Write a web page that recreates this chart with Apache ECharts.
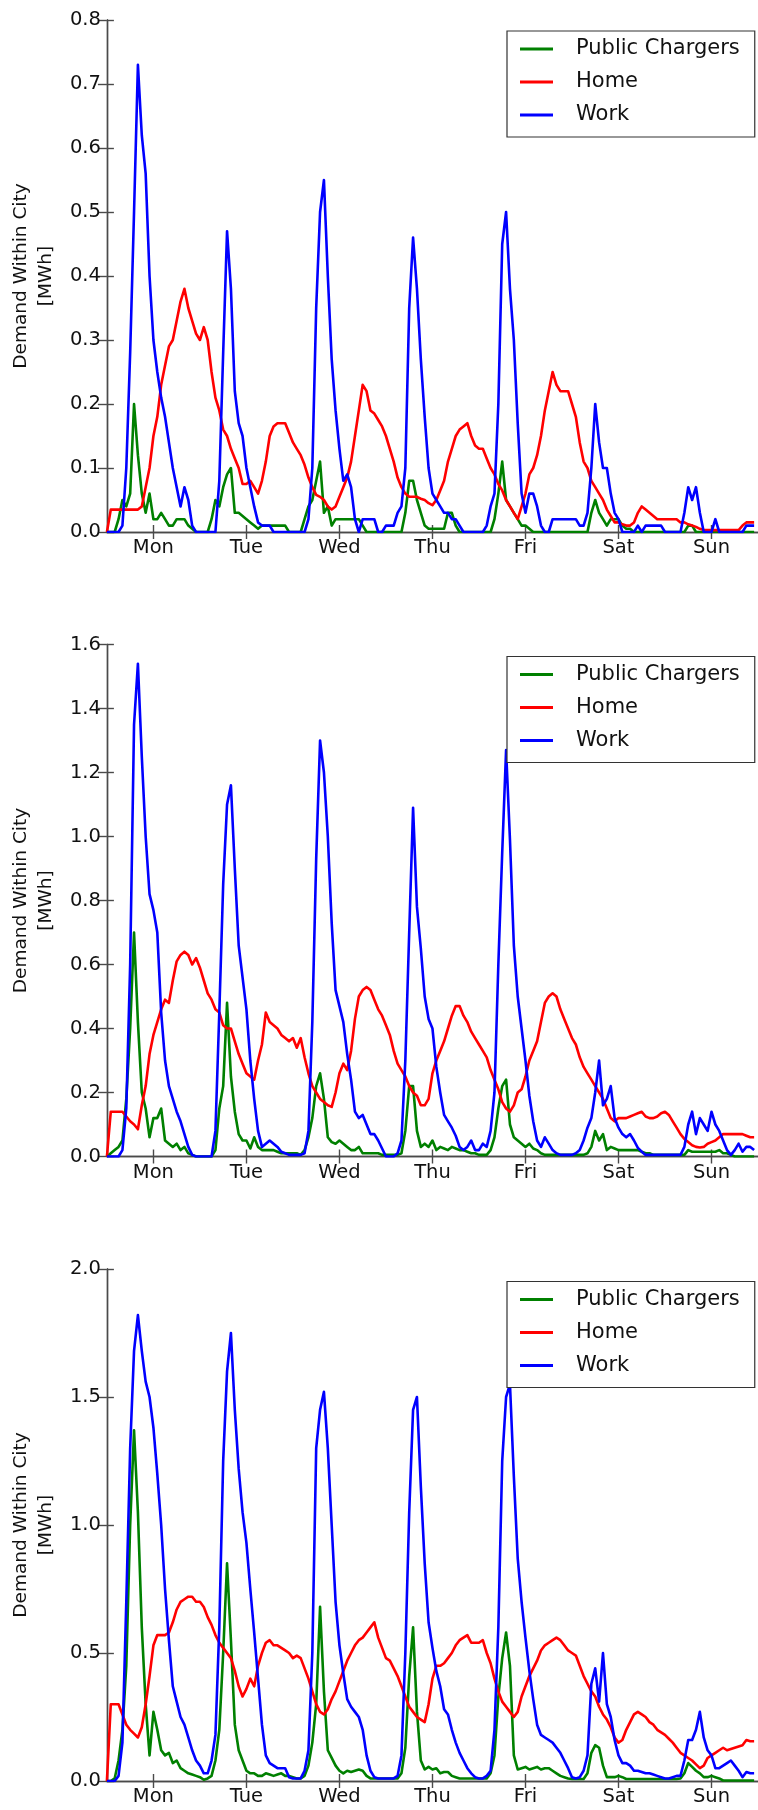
<!DOCTYPE html>
<html>
<head>
<meta charset="utf-8">
<script src="https://cdn.jsdelivr.net/npm/echarts@6/dist/echarts.min.js"></script>
<style>
  html, body { margin: 0; padding: 0; background: #fff; }
  #chart { width: 758px; height: 1810px; }
</style>
</head>
<body>
<div id="chart"></div>
<script>
// Day labels sit at noon of each day; x values are hours since Monday 00:00.
const dayLabels = ['Mon', 'Tue', 'Wed', 'Thu', 'Fri', 'Sat', 'Sun'];
const dayTickHours = [12, 36, 60, 84, 108, 132, 156];
const seriesNames = ['Public Chargers', 'Home', 'Work'];
const yAxisMax = [0.8, 1.6, 2.0];
const yAxisStep = [0.1, 0.2, 0.5];

// Hourly demand within the city [MWh], one row per day (Mon..Sun).
// Scenario 1
const publicChargers1 = [
  0,0,0,0.02,0.05,0.04,0.06,0.2,0.12,0.06,0.03,0.06,0.02,0.02,0.03,0.02,0.01,0.01,0.02,0.02,0.02,0.01,0.005,0,
  0,0,0,0.02,0.05,0.04,0.07,0.09,0.1,0.03,0.03,0.025,0.02,0.015,0.01,0.005,0.01,0.01,0.01,0.01,0.01,0.01,0.01,0,
  0,0,0,0.02,0.04,0.05,0.08,0.11,0.03,0.04,0.01,0.02,0.02,0.02,0.02,0.02,0.02,0.02,0.01,0,0,0,0,0,
  0,0,0,0,0,0.03,0.08,0.08,0.05,0.03,0.01,0.005,0.005,0.005,0.005,0.005,0.03,0.03,0.01,0,0,0,0,0,
  0,0,0,0,0.02,0.06,0.11,0.05,0.04,0.03,0.02,0.01,0.01,0.005,0,0,0,0,0,0,0,0,0,0,
  0,0,0,0,0,0.03,0.05,0.03,0.02,0.01,0.02,0.02,0.02,0.01,0.005,0.005,0,0,0,0,0,0,0,0,
  0,0,0,0,0,0,0.01,0.01,0,0,0,0,0,0,0,0,0,0,0,0,0,0,0,0
];
const home1 = [
  0,0.035,0.035,0.035,0.035,0.035,0.035,0.035,0.035,0.04,0.07,0.1,0.15,0.18,0.23,0.26,0.29,0.3,0.33,0.36,0.38,0.35,0.33,0.31,
  0.3,0.32,0.3,0.25,0.21,0.19,0.16,0.15,0.13,0.115,0.1,0.075,0.075,0.08,0.07,0.06,0.08,0.11,0.15,0.165,0.17,0.17,0.17,0.155,
  0.14,0.13,0.12,0.105,0.085,0.07,0.058,0.055,0.05,0.04,0.035,0.04,0.055,0.07,0.085,0.11,0.15,0.19,0.23,0.22,0.19,0.185,0.175,0.165,
  0.15,0.13,0.11,0.085,0.07,0.06,0.055,0.055,0.055,0.052,0.05,0.045,0.042,0.05,0.065,0.08,0.11,0.13,0.15,0.16,0.165,0.17,0.15,0.135,
  0.13,0.13,0.115,0.1,0.09,0.075,0.065,0.05,0.04,0.03,0.02,0.04,0.06,0.09,0.1,0.12,0.15,0.19,0.22,0.25,0.23,0.22,0.22,0.22,
  0.2,0.18,0.14,0.11,0.1,0.08,0.07,0.06,0.05,0.035,0.025,0.015,0.015,0.012,0.01,0.01,0.015,0.03,0.04,0.035,0.03,0.025,0.02,0.02,
  0.02,0.02,0.02,0.02,0.015,0.015,0.012,0.01,0.008,0.005,0.003,0.003,0.003,0.003,0.003,0.003,0.003,0.003,0.003,0.003,0.01,0.015,0.015,0.015
];
const work1 = [
  0,0,0,0,0.01,0.1,0.28,0.5,0.73,0.62,0.56,0.4,0.3,0.25,0.21,0.18,0.14,0.1,0.07,0.04,0.07,0.05,0.01,0,
  0,0,0,0,0,0.08,0.28,0.47,0.38,0.22,0.17,0.15,0.1,0.07,0.04,0.015,0.01,0.01,0.01,0,0,0,0,0,
  0,0,0,0,0.02,0.1,0.35,0.5,0.55,0.4,0.27,0.19,0.13,0.08,0.09,0.07,0.02,0,0.02,0.02,0.02,0.02,0,0,
  0.01,0.01,0.01,0.03,0.04,0.1,0.35,0.46,0.38,0.27,0.18,0.1,0.06,0.05,0.04,0.03,0.03,0.02,0.02,0.01,0,0,0,0,
  0,0,0.01,0.04,0.06,0.2,0.45,0.5,0.38,0.3,0.17,0.06,0.03,0.06,0.06,0.04,0.01,0,0,0.02,0.02,0.02,0.02,0.02,
  0.02,0.02,0.01,0.01,0.03,0.1,0.2,0.14,0.1,0.1,0.06,0.03,0.02,0,0,0,0,0.01,0,0.01,0.01,0.01,0.01,0.01,
  0,0,0,0,0,0.03,0.07,0.05,0.07,0.03,0,0,0,0.02,0,0,0,0,0,0,0,0.01,0.01,0.01
];

// Scenario 2
const publicChargers2 = [
  0,0.01,0.02,0.03,0.05,0.18,0.4,0.7,0.42,0.2,0.15,0.06,0.12,0.12,0.15,0.05,0.04,0.03,0.04,0.02,0.03,0.01,0.005,0,
  0,0,0,0,0.02,0.15,0.22,0.48,0.25,0.14,0.07,0.05,0.05,0.025,0.06,0.03,0.02,0.02,0.02,0.02,0.015,0.01,0.01,0.01,
  0.01,0.01,0.005,0.02,0.06,0.12,0.22,0.26,0.18,0.06,0.045,0.04,0.05,0.04,0.03,0.02,0.02,0.03,0.01,0.01,0.01,0.01,0.01,0.005,
  0.005,0.005,0.005,0.005,0.01,0.08,0.22,0.22,0.08,0.03,0.04,0.03,0.05,0.02,0.03,0.025,0.02,0.03,0.025,0.02,0.02,0.015,0.01,0.01,
  0.005,0.005,0.005,0.02,0.06,0.15,0.22,0.24,0.1,0.06,0.05,0.04,0.03,0.04,0.025,0.02,0.01,0.005,0.005,0.005,0.005,0.005,0.005,0.005,
  0.005,0.005,0.005,0.005,0.01,0.03,0.08,0.05,0.07,0.02,0.03,0.025,0.02,0.02,0.02,0.02,0.02,0.02,0.015,0.01,0.01,0.005,0.005,0.005,
  0.005,0.005,0.005,0.005,0.005,0.005,0.02,0.015,0.015,0.015,0.015,0.015,0.015,0.015,0.02,0.01,0.01,0.005,0,0,0,0,0,0
];
const home2 = [
  0,0.14,0.14,0.14,0.14,0.125,0.11,0.1,0.085,0.16,0.22,0.32,0.38,0.42,0.46,0.49,0.48,0.55,0.61,0.63,0.64,0.63,0.6,0.62,
  0.59,0.55,0.51,0.49,0.46,0.45,0.41,0.4,0.4,0.36,0.32,0.29,0.26,0.25,0.24,0.3,0.35,0.45,0.42,0.41,0.4,0.38,0.37,0.36,
  0.37,0.34,0.37,0.31,0.26,0.22,0.2,0.18,0.17,0.16,0.155,0.2,0.26,0.29,0.27,0.33,0.43,0.5,0.52,0.53,0.52,0.49,0.46,0.44,
  0.41,0.38,0.33,0.29,0.27,0.25,0.22,0.2,0.19,0.16,0.16,0.18,0.26,0.3,0.33,0.36,0.4,0.44,0.47,0.47,0.44,0.42,0.39,0.37,
  0.35,0.33,0.31,0.27,0.24,0.21,0.17,0.15,0.14,0.16,0.2,0.21,0.25,0.3,0.33,0.36,0.42,0.48,0.5,0.51,0.5,0.46,0.43,0.4,
  0.37,0.35,0.31,0.28,0.26,0.24,0.22,0.2,0.18,0.15,0.12,0.11,0.12,0.12,0.12,0.125,0.13,0.135,0.14,0.125,0.12,0.12,0.125,0.135,
  0.14,0.13,0.11,0.09,0.07,0.055,0.045,0.035,0.03,0.028,0.03,0.04,0.045,0.05,0.06,0.07,0.07,0.07,0.07,0.07,0.07,0.065,0.06,0.06
];
const work2 = [
  0,0,0,0,0.02,0.15,0.6,1.35,1.54,1.25,1.0,0.82,0.77,0.7,0.45,0.3,0.22,0.18,0.14,0.11,0.07,0.03,0.005,0,
  0,0,0,0,0.08,0.45,0.85,1.1,1.16,0.9,0.66,0.56,0.46,0.3,0.18,0.08,0.03,0.04,0.05,0.04,0.03,0.015,0.01,0.005,
  0.005,0.005,0.005,0.01,0.08,0.42,0.93,1.3,1.2,1.0,0.73,0.52,0.47,0.42,0.32,0.24,0.14,0.12,0.13,0.1,0.07,0.07,0.05,0.025,
  0,0,0,0.01,0.05,0.3,0.7,1.09,0.78,0.65,0.5,0.43,0.4,0.28,0.2,0.13,0.11,0.09,0.065,0.03,0.02,0.03,0.05,0.02,
  0.02,0.04,0.03,0.08,0.2,0.6,0.95,1.27,0.99,0.66,0.5,0.4,0.3,0.19,0.11,0.05,0.03,0.06,0.04,0.02,0.01,0.005,0.005,0.005,
  0.005,0.01,0.02,0.05,0.09,0.12,0.2,0.3,0.16,0.18,0.22,0.12,0.09,0.07,0.06,0.07,0.05,0.027,0.015,0.005,0.005,0.005,0.005,0.005,
  0.005,0.005,0.005,0.005,0.005,0.03,0.1,0.14,0.07,0.12,0.1,0.08,0.14,0.1,0.08,0.05,0.02,0.005,0.02,0.04,0.015,0.03,0.03,0.02
];

// Scenario 3
const publicChargers3 = [
  0,0,0.01,0.08,0.2,0.45,1.0,1.37,1.05,0.6,0.3,0.1,0.27,0.2,0.12,0.1,0.11,0.07,0.08,0.05,0.04,0.03,0.025,0.02,
  0.015,0.005,0.01,0.02,0.08,0.2,0.5,0.85,0.55,0.22,0.12,0.08,0.04,0.03,0.03,0.02,0.02,0.03,0.025,0.02,0.025,0.03,0.02,0.02,
  0.015,0.01,0.01,0.02,0.06,0.15,0.3,0.68,0.35,0.12,0.09,0.06,0.04,0.03,0.04,0.035,0.04,0.045,0.04,0.02,0.01,0.01,0.01,0.01,
  0.01,0.01,0.01,0.01,0.03,0.13,0.41,0.6,0.27,0.08,0.045,0.055,0.045,0.05,0.03,0.035,0.035,0.02,0.015,0.01,0.01,0.01,0.01,0.01,
  0.01,0.01,0.01,0.03,0.1,0.33,0.48,0.58,0.45,0.1,0.045,0.05,0.055,0.045,0.05,0.055,0.045,0.05,0.05,0.04,0.03,0.02,0.015,0.01,
  0.008,0.008,0.008,0.008,0.03,0.11,0.14,0.13,0.06,0.015,0.015,0.015,0.02,0.015,0.008,0.008,0.008,0.008,0.008,0.008,0.008,0.008,0.008,0.008,
  0.008,0.008,0.008,0.008,0.01,0.03,0.07,0.055,0.04,0.03,0.015,0.015,0.02,0.015,0.01,0.002,0.002,0.002,0.002,0.002,0.002,0.002,0.002,0.002
];
const home3 = [
  0,0.3,0.3,0.3,0.26,0.22,0.2,0.185,0.17,0.21,0.3,0.41,0.53,0.57,0.57,0.57,0.58,0.62,0.67,0.7,0.71,0.72,0.72,0.7,
  0.7,0.68,0.64,0.61,0.57,0.54,0.52,0.5,0.48,0.43,0.37,0.33,0.36,0.4,0.37,0.45,0.5,0.54,0.55,0.53,0.53,0.52,0.51,0.5,
  0.48,0.49,0.48,0.44,0.4,0.35,0.3,0.27,0.26,0.28,0.32,0.35,0.39,0.43,0.47,0.5,0.53,0.55,0.56,0.58,0.6,0.62,0.56,0.52,
  0.48,0.47,0.44,0.41,0.37,0.33,0.29,0.27,0.25,0.24,0.23,0.3,0.4,0.45,0.45,0.46,0.48,0.5,0.53,0.55,0.56,0.57,0.54,0.54,
  0.54,0.55,0.5,0.46,0.4,0.35,0.31,0.29,0.27,0.25,0.27,0.33,0.37,0.41,0.44,0.47,0.51,0.53,0.54,0.55,0.56,0.55,0.53,0.51,
  0.5,0.49,0.45,0.41,0.38,0.35,0.33,0.29,0.26,0.24,0.21,0.17,0.15,0.16,0.2,0.23,0.26,0.27,0.26,0.25,0.23,0.22,0.2,0.19,
  0.18,0.165,0.15,0.13,0.11,0.1,0.09,0.08,0.065,0.05,0.06,0.09,0.1,0.11,0.12,0.13,0.12,0.125,0.13,0.135,0.14,0.16,0.155,0.155
];
const work3 = [
  0,0,0,0.02,0.15,0.7,1.3,1.68,1.82,1.68,1.56,1.5,1.38,1.2,1.0,0.75,0.55,0.37,0.31,0.25,0.22,0.17,0.12,0.08,
  0.06,0.03,0.03,0.08,0.18,0.6,1.25,1.6,1.75,1.45,1.22,1.05,0.93,0.75,0.58,0.4,0.22,0.1,0.07,0.06,0.05,0.05,0.05,0.015,
  0.01,0.01,0.01,0.04,0.12,0.5,1.3,1.45,1.52,1.3,1.0,0.7,0.53,0.42,0.32,0.29,0.27,0.25,0.2,0.1,0.04,0.015,0.01,0.01,
  0.01,0.01,0.01,0.02,0.1,0.5,1.05,1.45,1.5,1.15,0.85,0.62,0.52,0.43,0.37,0.28,0.26,0.2,0.15,0.11,0.08,0.05,0.03,0.015,
  0.01,0.01,0.02,0.04,0.2,0.6,1.25,1.5,1.55,1.19,0.87,0.7,0.56,0.43,0.32,0.22,0.18,0.17,0.16,0.15,0.13,0.11,0.08,0.05,
  0.015,0.01,0.015,0.04,0.1,0.38,0.44,0.31,0.5,0.3,0.25,0.16,0.1,0.07,0.07,0.06,0.04,0.04,0.035,0.03,0.03,0.025,0.02,0.015,
  0.01,0.01,0.015,0.02,0.02,0.08,0.16,0.16,0.2,0.27,0.17,0.12,0.1,0.05,0.05,0.06,0.07,0.08,0.06,0.04,0.015,0.035,0.03,0.03
];

const panelSeries = [
  [publicChargers1, home1, work1],
  [publicChargers2, home2, work2],
  [publicChargers3, home3, work3]
];

// ---- layout & styling ----
const FONT = 'DejaVu Sans';
const TEXT_COLOR = '#111';
const SPINE = { color: '#4a4a4a', width: 1.4 };
const lineColors = ['#008000', '#ff0000', '#0000ff'];
const gridBoxes = [
  { left: 101.6, top: 20, width: 664.3, height: 512 },
  { left: 101.6, top: 644.5, width: 664.3, height: 512 },
  { left: 101.6, top: 1269, width: 664.3, height: 512 }
];
const legendTops = [31, 656.5, 1281.5];

const grid = [], xAxis = [], yAxis = [], series = [], legend = [];

gridBoxes.forEach((box, p) => {
  grid.push(Object.assign({ containLabel: false }, box));

  // bottom axis with weekday labels
  xAxis.push({
    gridIndex: p, type: 'value', min: 0, max: 168, position: 'bottom',
    axisLine: { show: true, lineStyle: SPINE },
    axisTick: { show: true, inside: true, length: 7, customValues: dayTickHours, lineStyle: SPINE },
    axisLabel: {
      show: true, customValues: dayTickHours, margin: 6,
      formatter: v => dayLabels[Math.round((v - 12) / 24)],
      fontFamily: FONT, fontSize: 19.5, color: TEXT_COLOR
    },
    splitLine: { show: false }
  });
  // top frame edge with matching ticks
  xAxis.push({
    gridIndex: p, type: 'value', min: 0, max: 168, position: 'top',
    axisLine: { show: true, lineStyle: SPINE },
    axisTick: { show: true, inside: true, length: 7, customValues: dayTickHours, lineStyle: SPINE },
    axisLabel: { show: false },
    splitLine: { show: false }
  });

  yAxis.push({
    gridIndex: p, type: 'value', min: 0, max: yAxisMax[p], interval: yAxisStep[p], position: 'left',
    axisLine: { show: true, lineStyle: SPINE },
    axisTick: { show: true, inside: true, length: 7, lineStyle: SPINE },
    axisLabel: {
      show: true, margin: 6, formatter: v => v.toFixed(1),
      fontFamily: FONT, fontSize: 19.5, color: TEXT_COLOR
    },
    splitLine: { show: false },
    name: 'Demand Within City\n[MWh]',
    nameLocation: 'middle', nameRotate: 90, nameGap: 41,
    nameTextStyle: { fontFamily: FONT, fontSize: 18.5, lineHeight: 25.5, color: TEXT_COLOR }
  });
  yAxis.push({
    gridIndex: p, type: 'value', min: 0, max: yAxisMax[p], interval: yAxisStep[p], position: 'right',
    axisLine: { show: true, lineStyle: SPINE },
    axisTick: { show: true, inside: true, length: 9, lineStyle: SPINE },
    axisLabel: { show: false },
    splitLine: { show: false }
  });

  panelSeries[p].forEach((values, s) => {
    series.push({
      name: seriesNames[s], type: 'line',
      xAxisIndex: p * 2, yAxisIndex: p * 2,
      data: values.map((v, h) => [h, v]),
      showSymbol: false, symbol: 'none', silent: true,
      lineStyle: { color: lineColors[s], width: 2.6, join: 'round' },
      itemStyle: { color: lineColors[s] },
      z: 2 + s
    });
  });

  legend.push({
    data: seriesNames, orient: 'vertical', left: 507, top: legendTops[p],
    icon: 'rect', itemWidth: 33, itemHeight: 2.8, itemGap: 11,
    padding: [7, 15, 11, 13],
    borderColor: '#333', borderWidth: 1.2, borderRadius: 0, backgroundColor: '#fff',
    selectedMode: false, z: 20,
    textStyle: { fontFamily: FONT, fontSize: 21, color: TEXT_COLOR, lineHeight: 22, padding: [0, 0, 0, 18] }
  });
});

const chart = echarts.init(document.getElementById('chart'), null, { renderer: 'canvas' });
chart.setOption({
  animation: false,
  backgroundColor: '#fff',
  grid, xAxis, yAxis, series, legend
});
</script>
</body>
</html>
